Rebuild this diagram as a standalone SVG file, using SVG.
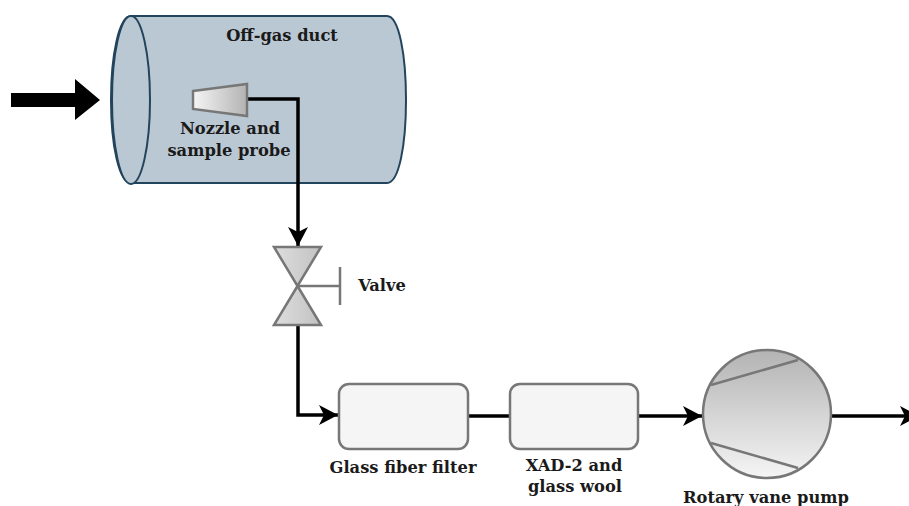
<svg xmlns="http://www.w3.org/2000/svg" width="909" height="506" viewBox="0 0 909 506">
<style>
text{font-family:"DejaVu Serif","Liberation Serif",serif;font-weight:700;font-size:16.300px;fill:#1a1a1a;text-anchor:middle}
.g{stroke:#777;stroke-width:2.5}
.c{fill:none;stroke:#000;stroke-width:3.5}
.box{fill:#f5f5f5;stroke:#777;stroke-width:2.5}
.duct{fill:#bac8d3;stroke:#23445d;stroke-width:2}
</style>
<defs>
<linearGradient id="h"><stop offset="0" stop-color="#f5f5f5"/><stop offset="1" stop-color="#b3b3b3"/></linearGradient>
<linearGradient id="m"><stop offset="0" stop-color="#dedede"/><stop offset="1" stop-color="#c2c2c2"/></linearGradient>
<linearGradient id="v" x2="0" y2="1"><stop offset="0" stop-color="#b3b3b3"/><stop offset="1" stop-color="#f5f5f5"/></linearGradient>
<marker id="a" markerUnits="userSpaceOnUse" markerWidth="20" markerHeight="20" refX="19" refY="10" orient="auto"><path d="M0 0L19 10L0 20L5 10Z" fill="#000"/></marker>
</defs>
<g id="duct">
<path class="duct" d="M131 16H387C399 16 406 55 406 100S399 183 387 183H131C119 183 111 145 111 100S119 16 131 16Z"/>
<ellipse class="duct" cx="131" cy="100" rx="19" ry="84"/>
<text x="282" y="41">Off-gas duct</text>
</g>
<g id="inlet-arrow"><path d="M11 93H75V79L100 100L75 120V107H11Z" fill="#000"/></g>
<g id="connectors">
<path class="c" d="M247 99H298V246" marker-end="url(#a)"/>
<path class="c" d="M298 325V415H338" marker-end="url(#a)"/>
<path class="c" d="M468 416H510"/>
<path class="c" d="M638 416H702" marker-end="url(#a)"/>
<path class="c" d="M832 416H919" marker-end="url(#a)"/>
</g>
<g id="nozzle">
<path class="g" fill="url(#h)" d="M193 91L247 84V116L193 109Z"/>
<text x="230" y="134">Nozzle and</text>
<text x="229" y="156">sample probe</text>
</g>
<g id="valve">
<path class="g" fill="url(#m)" d="M274 247H321L297.500 286Z"/>
<path class="g" fill="url(#m)" d="M274 325H321L297.500 286Z"/>
<path class="g" fill="none" d="M297.500 286H340M340 267V305"/>
<text x="382" y="291">Valve</text>
</g>
<g id="filter">
<rect class="box" x="339" y="384" width="129" height="65" rx="10"/>
<text x="403" y="473">Glass fiber filter</text>
</g>
<g id="xad">
<rect class="box" x="510" y="384" width="128" height="65" rx="10"/>
<text x="574" y="471">XAD-2 and</text>
<text x="575" y="492">glass wool</text>
</g>
<g id="pump">
<circle class="g" fill="url(#v)" cx="767" cy="414" r="64"/>
<path class="g" fill="none" d="M711 385L798 360M711 443L798 468"/>
<text x="766" y="503">Rotary vane pump</text>
</g>
</svg>
